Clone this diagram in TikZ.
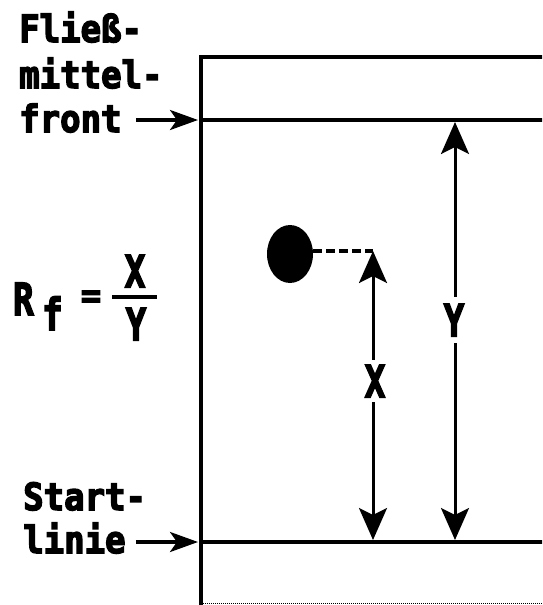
\documentclass[tikz,border=0pt]{standalone}
\usepackage{fontspec}
\newfontfamily\dm{DejaVu Sans Mono}[BoldFeatures={FakeBold=4}]
\usetikzlibrary{arrows.meta,shapes.geometric}
\begin{document}
\begin{tikzpicture}[x=1pt,y=-1pt,
  lbl/.style={font=\dm\bfseries\fontsize{34}{34}\selectfont, inner sep=0pt, anchor=base west},
  big/.style={font=\dm\bfseries\fontsize{34}{34}\selectfont, inner sep=0pt},
  plate/.style={line width=4.5pt},
  bigtip/.tip={Stealth[length=32pt,width=28pt,inset=7pt]},
  smalltip/.tip={Stealth[length=28pt,width=20pt,inset=7pt]},
  darr/.style={line width=3pt, bigtip-bigtip},
  larr/.style={line width=3.5pt, -smalltip},
]
\useasboundingbox (0,0) rectangle (542,605);
\clip (0,0) rectangle (542,605);
% plate
\coordinate (pl) at (201,57);
\coordinate (fl) at (201,120);
\coordinate (sl) at (201,542);
\draw[plate] (560,57) -- (pl) -- (201,612);
\draw[plate] (fl) -- (560,120);
\draw[plate] (sl) -- (560,542);
\draw[line width=1pt, densely dotted] (201,603) -- (560,603);
% labels left
\node[lbl] (t1) at (19,42) {\scalebox{1}[1.1]{Fließ-}};
\node[lbl] (t2) at (19,88) {\scalebox{1}[1.1]{mittel-}};
\node[lbl] (t3) at (19,132) {\scalebox{1}[1.1]{front}};
\node[lbl] (t4) at (23,510) {\scalebox{1}[1.1]{Start-}};
\node[lbl] (t5) at (23,553) {\scalebox{1}[1.1]{linie}};
\coordinate (fa) at (198,120);
\coordinate (sa) at (198,542);
\draw[larr] ([xshift=14pt]t3.east |- fa) -- (fa);
\draw[larr] ([xshift=10pt]t5.east |- sa) -- (sa);
% formula
\node[big, anchor=base west] (R) at (13,315) {\scalebox{1}[1.3]{R}};
\node[big, anchor=base west] (f) at (42,330) {\scalebox{1}[1.3]{f}};
\node[big] (eq) at (91,299) {=};
\coordinate (fb1) at (112,297);
\coordinate (fb2) at (157,297);
\draw[line width=4pt] (fb1) -- (fb2);
\node[big] (num) at (135,271) {\scalebox{1}[1.3]{X}};
\node[big] (den) at (136,324) {\scalebox{1}[1.3]{Y}};
% spot
\node[fill, ellipse, inner sep=0pt, minimum width=46pt, minimum height=58pt] (spot) at (290,254) {};
\coordinate (xt) at (373,251);
\coordinate (xb) at (373,540);
\coordinate (yt) at (455,122);
\coordinate (yb) at (455,540);
\draw[line width=3.5pt, dash pattern=on 9pt off 4pt] (spot.east |- xt) -- (xt);
\draw[darr] (xb) -- (xt);
\draw[darr] (yb) -- (yt);
\node[big, fill=white, inner xsep=3pt, inner ysep=5pt] (xl) at (375,381) {\scalebox{1}[1.3]{X}};
\node[big, fill=white, inner xsep=3pt, inner ysep=7pt] (yl) at (454,320) {\scalebox{1}[1.3]{Y}};
\end{tikzpicture}
\end{document}
